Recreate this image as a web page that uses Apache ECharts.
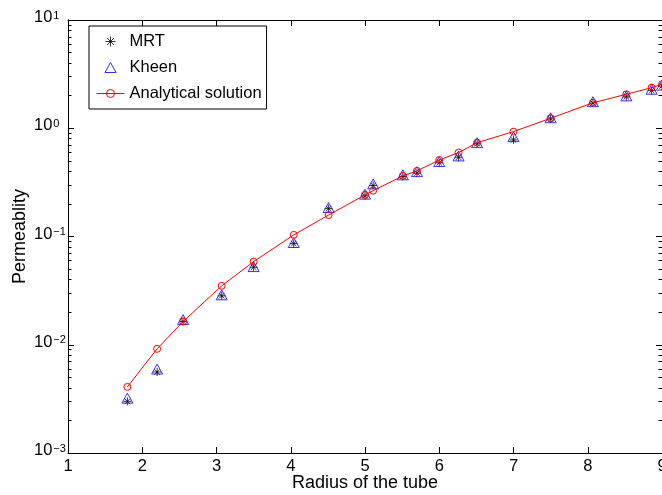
<!DOCTYPE html>
<html>
<head>
<meta charset="utf-8">
<script src="https://cdn.jsdelivr.net/npm/echarts@6/dist/echarts.min.js"></script>
<style>
html,body{margin:0;padding:0;background:#fff;}
#chart{width:662px;height:495px;}
</style>
</head>
<body>
<div id="chart"></div>
<script>
// ---- data ----
var radius     = [1.8, 2.2, 2.55, 3.07, 3.5, 4.04, 4.51, 5.0, 5.11, 5.51, 5.7, 6.0, 6.26, 6.51, 7.0, 7.5, 8.07, 8.52, 8.86, 9.0];
var mrt        = [0.0030, 0.0056, 0.0164, 0.0283, 0.052, 0.086, 0.181, 0.238, 0.296, 0.358, 0.385, 0.48, 0.54, 0.72, 0.78, 1.22, 1.71, 1.95, 2.23, 2.45];
var kheen      = [0.00321, 0.00596, 0.0171, 0.0289, 0.0527, 0.0879, 0.185, 0.246, 0.306, 0.371, 0.397, 0.492, 0.555, 0.736, 0.836, 1.25, 1.76, 1.99, 2.29, 2.5];
var analytical = [0.00408, 0.00917, 0.0164, 0.035, 0.0586, 0.1035, 0.158, 0.242, 0.265, 0.363, 0.404, 0.509, 0.596, 0.736, 0.931, 1.237, 1.72, 2.06, 2.37, 2.55];
var xTicks     = [1, 2, 3, 4, 5, 6, 7, 8, 9];
var yDecades   = [0.001, 0.01, 0.1, 1, 10];
var seriesNames = ['MRT', 'Kheen', 'Analytical solution'];
var xTitle = 'Radius of the tube';
var yTitle = 'Permeablity';

function pairs(xs, ys) { return xs.map(function (x, i) { return [x, ys[i]]; }); }
var minorVals = [];
for (var d = 0; d < yDecades.length - 1; d++) {
  for (var m = 2; m <= 9; m++) minorVals.push(+(m * yDecades[d]).toPrecision(3));
}

var FONT = '"Liberation Sans", Arial, Helvetica, sans-serif';
var asterisk = 'path://M5,0L5,10M0,5L10,5M1.6,1.6L8.4,8.4M1.6,8.4L8.4,1.6';
var triangle = 'path://M5,0L10,9L0,9Z';

function yLabel(v) {
  var e = Math.round(Math.log10(v));
  return '{b|10}{s|' + String(e).replace('-', '\u2212') + '}';
}

function yAxisBase(extra) {
  var o = {
    type: 'log', logBase: 10, min: 0.001, max: 10,
    axisLine: { show: true, lineStyle: { color: '#000', width: 1 } },
    splitLine: { show: false },
    axisLabel: { show: false },
    axisTick: { show: true, inside: true, length: 6, lineStyle: { color: '#000', width: 1 } }
  };
  for (var k in extra) o[k] = extra[k];
  return o;
}

var chart = echarts.init(document.getElementById('chart'), null, { renderer: 'canvas' });
chart.setOption({
  animation: false,
  backgroundColor: '#fff',
  textStyle: { fontFamily: FONT, color: '#000' },
  grid: { left: 68, right: 0, top: 20, bottom: 42, containLabel: false, outerBoundsMode: 'none' },
  legend: {
    orient: 'vertical', left: 89, top: 26,
    padding: [7, 5, 7, 7],
    itemWidth: 28, itemHeight: 10, itemGap: 9,
    symbolKeepAspect: true,
    backgroundColor: '#fff', borderColor: '#000', borderWidth: 1, borderRadius: 0,
    textStyle: { fontFamily: FONT, fontSize: 16.5, color: '#000' },
    data: [
      { name: seriesNames[0], itemStyle: { color: 'rgba(0,0,0,0)', borderColor: '#000', borderWidth: 1 } },
      { name: seriesNames[1], itemStyle: { color: 'rgba(0,0,0,0)', borderColor: '#0000ff', borderWidth: 1 } },
      { name: seriesNames[2], lineStyle: { width: 1, color: '#ff0000' },
        itemStyle: { color: 'rgba(0,0,0,0)', borderColor: '#ff0000', borderWidth: 1 } }
    ]
  },
  xAxis: [{
    type: 'value', min: 1, max: 9, interval: 1, position: 'bottom',
    name: xTitle, nameLocation: 'middle', nameGap: 21, nameMoveOverlap: false,
    nameTextStyle: { fontFamily: FONT, fontSize: 18, color: '#000' },
    axisLine: { show: true, lineStyle: { color: '#000', width: 1 } },
    axisTick: { show: true, inside: true, length: 6, lineStyle: { color: '#000' } },
    axisLabel: { show: true, margin: 5, fontFamily: FONT, fontSize: 16.5, color: '#000',
      customValues: xTicks },
    splitLine: { show: false }
  }, {
    type: 'value', min: 1, max: 9, interval: 1, position: 'top',
    axisLine: { show: true, lineStyle: { color: '#000', width: 1 } },
    axisTick: { show: true, inside: true, length: 6, lineStyle: { color: '#000' } },
    axisLabel: { show: false },
    splitLine: { show: false }
  }],
  yAxis: [
    yAxisBase({
      position: 'left',
      name: yTitle, nameLocation: 'middle', nameGap: 39, nameMoveOverlap: false,
      nameTextStyle: { fontFamily: FONT, fontSize: 18, color: '#000' },
      axisLabel: {
        show: true, margin: 34, align: 'left', formatter: yLabel,
        padding: [0, 0, 4, 0],
        rich: {
          b: { fontFamily: FONT, fontSize: 16.5, lineHeight: 16, color: '#000', verticalAlign: 'bottom' },
          s: { fontFamily: FONT, fontSize: 11, lineHeight: 11, color: '#000', verticalAlign: 'top', padding: [0, 0, 10, 1] }
        }
      }
    }),
    yAxisBase({ position: 'left', axisTick: { show: true, inside: true, length: 3.5, lineStyle: { color: '#000' }, customValues: minorVals } }),
    yAxisBase({ position: 'right' }),
    yAxisBase({ position: 'right', axisTick: { show: true, inside: true, length: 3.5, lineStyle: { color: '#000' }, customValues: minorVals } })
  ],
  series: [{
    name: seriesNames[0], type: 'scatter', xAxisIndex: 0, yAxisIndex: 0,
    data: pairs(radius, mrt),
    symbol: asterisk, symbolSize: 8, symbolKeepAspect: true,
    itemStyle: { color: 'rgba(0,0,0,0)', borderColor: '#000', borderWidth: 1 },
    emphasis: { disabled: true }
  }, {
    name: seriesNames[1], type: 'scatter', xAxisIndex: 0, yAxisIndex: 0,
    data: pairs(radius, kheen),
    symbol: triangle, symbolSize: 11, symbolKeepAspect: true,
    itemStyle: { color: 'rgba(0,0,0,0)', borderColor: '#0000ff', borderWidth: 1 },
    emphasis: { disabled: true }
  }, {
    name: seriesNames[2], type: 'line', xAxisIndex: 0, yAxisIndex: 0,
    data: pairs(radius, analytical),
    symbol: 'circle', symbolSize: 7, showSymbol: true,
    lineStyle: { color: '#ff0000', width: 1 },
    itemStyle: { color: 'rgba(0,0,0,0)', borderColor: '#ff0000', borderWidth: 1 },
    emphasis: { disabled: true }
  }]
});
</script>
</body>
</html>
